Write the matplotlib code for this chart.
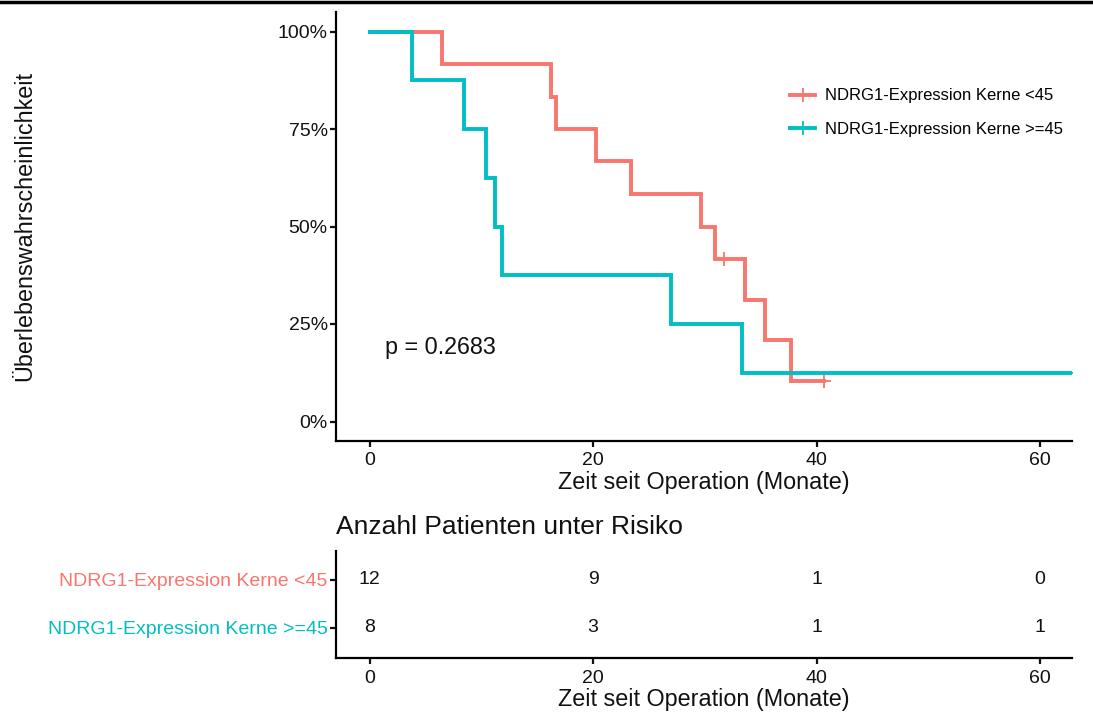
import matplotlib
matplotlib.use('Agg')
import matplotlib.pyplot as plt
from matplotlib.lines import Line2D
import numpy as np

plt.rcParams['font.family'] = ['Liberation Sans', 'DejaVu Sans']

# ---------------- data ----------------
group_labels = ['NDRG1-Expression Kerne <45', 'NDRG1-Expression Kerne >=45']
group_colors = ['#F8766D', '#00BFC4']

# group 1 (<45): event times and survival after each step
low_times = [0, 6.5, 16.2, 16.7, 20.3, 23.4, 29.7, 30.9, 33.6, 35.4, 37.7]
low_surv = [1.0, 0.917, 0.833, 0.75, 0.667, 0.583, 0.5, 0.417, 0.3125, 0.208, 0.104]
low_end = 40.7
low_censor = [31.7, 40.7]

# group 2 (>=45)
high_times = [0, 3.8, 8.45, 10.4, 11.2, 11.85, 26.95, 33.3]
high_surv = [1.0, 0.875, 0.75, 0.625, 0.5, 0.375, 0.25, 0.125]
high_end = 63.5
high_censor = [63.5]

p_text = 'p = 0.2683'

risk_times = [0, 20, 40, 60]
risk_low = [12, 9, 1, 0]
risk_high = [8, 3, 1, 1]

y_ticks = [0, 0.25, 0.5, 0.75, 1.0]
y_ticklabels = ['0%', '25%', '50%', '75%', '100%']
x_ticks = [0, 20, 40, 60]

# ---------------- figure ----------------
W, H = 1093, 715
fig = plt.figure(figsize=(W / 100, H / 100), dpi=100)


def rect(l, t, r, b):
    return [l / W, 1 - b / H, (r - l) / W, (b - t) / H]


TXT = '#111111'
LW_AX = 1.6

ax = fig.add_axes(rect(336, 12, 1072, 441))


def surv_at(times, surv, t):
    idx = np.searchsorted(times, t, side='right') - 1
    return np.asarray(surv)[idx]


curves = [(low_times, low_surv, low_end, low_censor),
          (high_times, high_surv, high_end, high_censor)]
for (times, surv, end, cens), col, lab in zip(curves, group_colors, group_labels):
    xs = np.append(times, end)
    ys = np.append(surv, surv[-1])
    ax.step(xs, ys, where='post', color=col, lw=2.8, solid_joinstyle='miter', zorder=3)
    cy = [surv_at(times, surv, c) for c in cens]
    ax.plot(cens, cy, ls='none', marker='+', ms=10, mew=1.3, color=col, zorder=3)

ax.set_xlim(-3.0, 62.85)
ax.set_ylim(-0.05, 1.05)
ax.set_yticks(y_ticks)
ax.set_yticklabels(y_ticklabels)
ax.set_xticks(x_ticks)
for s in ['top', 'right']:
    ax.spines[s].set_visible(False)
for s in ['left', 'bottom']:
    ax.spines[s].set_linewidth(LW_AX)
ax.tick_params(axis='both', length=4, width=LW_AX, labelsize=14, colors=TXT, pad=2)
ax.tick_params(axis='x', pad=4)
ax.set_xlabel('Zeit seit Operation (Monate)', fontsize=16.8, color=TXT, labelpad=1.5)

fig.text(25 / W, 1 - 226 / H, 'Überlebenswahrscheinlichkeit', rotation=90,
         ha='center', va='center', fontsize=16.8, color=TXT)

ax.text(1.4, 0.19, p_text, fontsize=16.8, color=TXT, va='center', ha='left')

handles = [Line2D([0], [0], color=c, lw=2.8, marker='+', ms=10, mew=1.3)
           for c in group_colors]
ax.legend(handles, group_labels, loc='upper left', bbox_to_anchor=(0.617, 0.822),
          frameon=False, fontsize=12, handlelength=1.5, handletextpad=0.6,
          labelspacing=1.1, borderpad=0, borderaxespad=0)

# ---------------- risk table ----------------
ax2 = fig.add_axes(rect(336, 551, 1072, 658))
ax2.set_xlim(-3.0, 62.85)
ax2.set_ylim(2.625, 0.396)
for row, vals in enumerate([risk_low, risk_high], start=1):
    for t, v in zip(risk_times, vals):
        ax2.text(t, row, str(v), ha='center', va='center', fontsize=14, color=TXT)
ax2.set_yticks([1, 2])
ax2.set_yticklabels(group_labels)
for lbl, col in zip(ax2.get_yticklabels(), group_colors):
    lbl.set_color(col)
ax2.set_xticks(x_ticks)
for s in ['top', 'right']:
    ax2.spines[s].set_visible(False)
for s in ['left', 'bottom']:
    ax2.spines[s].set_linewidth(LW_AX)
ax2.tick_params(axis='both', length=4, width=LW_AX, labelsize=14, pad=2)
ax2.tick_params(axis='x', colors=TXT, pad=4.5)
ax2.tick_params(axis='y', color=TXT)
ax2.set_xlabel('Zeit seit Operation (Monate)', fontsize=16.8, color=TXT, labelpad=1)
fig.text(336 / W, 1 - 527 / H, 'Anzahl Patienten unter Risiko', ha='left', va='center',
         fontsize=19, color=TXT)

# top border line
fig.add_artist(Line2D([0, 1], [1 - 1.5 / H, 1 - 1.5 / H], transform=fig.transFigure,
                      color='black', lw=2.5))

fig.savefig('out.png', dpi=100)
